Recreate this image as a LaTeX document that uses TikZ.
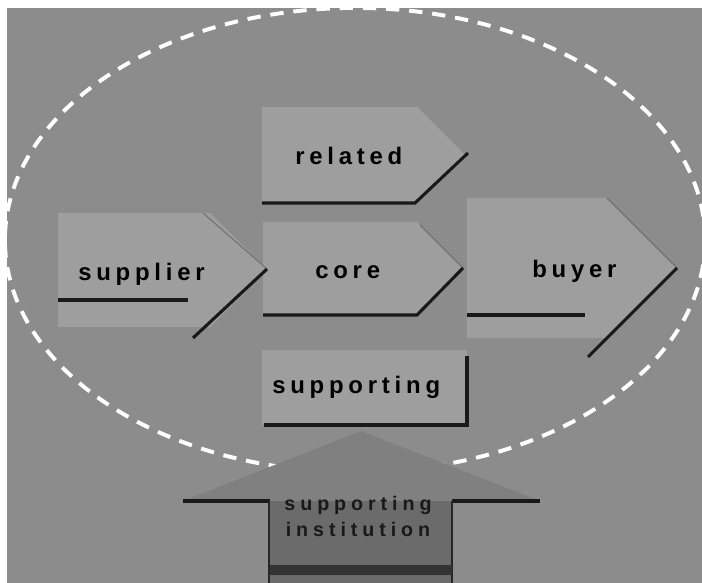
\documentclass[tikz,border=0pt]{standalone}
\usepackage{fontspec}
\newfontfamily\lblfont[LetterSpace=20]{Liberation Sans}
\newfontfamily\instfont[LetterSpace=25]{Liberation Sans}
\definecolor{scan}{gray}{0.55}
\definecolor{plate}{gray}{0.62}
\definecolor{roof}{gray}{0.5}
\definecolor{base}{gray}{0.42}
\begin{document}
\begin{tikzpicture}[x=0.025cm,y=-0.025cm,
  lbl/.style={anchor=base west,inner sep=0pt,font=\lblfont\bfseries\fontsize{17}{20}\selectfont},
  shadowline/.style={line width=2.2pt,black!90},
  edgeline/.style={line width=0.8pt,black!55}]
\useasboundingbox (0,0) rectangle (702,583);
\fill[white] (0,0) rectangle (702,583);
\fill[scan] (7,8) rectangle (702,583);
% the light arrow plates
\fill[plate] (262,107) -- (417,107) -- (467,157) -- (417,203) -- (262,203) -- cycle;
\fill[plate] (263,222) -- (417,222) -- (463,268) -- (417,314) -- (263,314) -- cycle;
\fill[plate] (467,198) -- (607,198) -- (677,268) -- (607,338) -- (467,338) -- cycle;
\fill[plate] (58,213) -- (210,213) -- (267,270) -- (210,327) -- (58,327) -- cycle;
\fill[plate] (262,350) rectangle (467,425);
% dark edges
\draw[edgeline] (203,213) -- (267,269);
\draw[edgeline] (420,225) -- (463,268);
\draw[edgeline] (607,198) -- (677,268);
\draw[shadowline] (262,203) -- (415,203) -- (468,153);
\draw[shadowline] (263,315) -- (417,315) -- (463,268);
\draw[shadowline] (58,300) -- (188,300);
\draw[shadowline] (193,338) -- (267,269);
\draw[shadowline] (467,315) -- (585,315);
\draw[shadowline] (588,357) -- (677,268);
\draw[shadowline] (264,425) -- (467,425) -- (467,356);
% cluster boundary
\draw[white,line width=2.8pt,dash pattern=on 9.5pt off 7pt] (355,240) ellipse [x radius=8.75cm,y radius=5.8cm];
% upward arrow into the cluster
\fill[roof] (183,501) -- (361,431) -- (540,501) -- cycle;
\fill[base] (270,501) rectangle (452,583);
\draw[shadowline] (183,501) -- (270,501);
\draw[shadowline] (452,501) -- (540,501);
\draw[line width=1.4pt,black!85] (269,501) -- (269,583);
\draw[line width=1.4pt,black!85] (452,501) -- (452,583);
\draw[line width=7pt,black!80] (270,570) -- (452,570);
% labels
\node[lbl] (related) at (295,165) {related};
\node[lbl] (supplier) at (78,280) {supplier};
\node[lbl] (core) at (315,278) {core};
\node[lbl] (buyer) at (532,277) {buyer};
\node[lbl] (supporting) at (272,393) {supporting};
\node[anchor=north,inner sep=0pt,align=center,font=\instfont\bfseries\fontsize{14}{18.5}\selectfont,text=black!90] (institution) at (358,496) {supporting\\institution};
\end{tikzpicture}
\end{document}
